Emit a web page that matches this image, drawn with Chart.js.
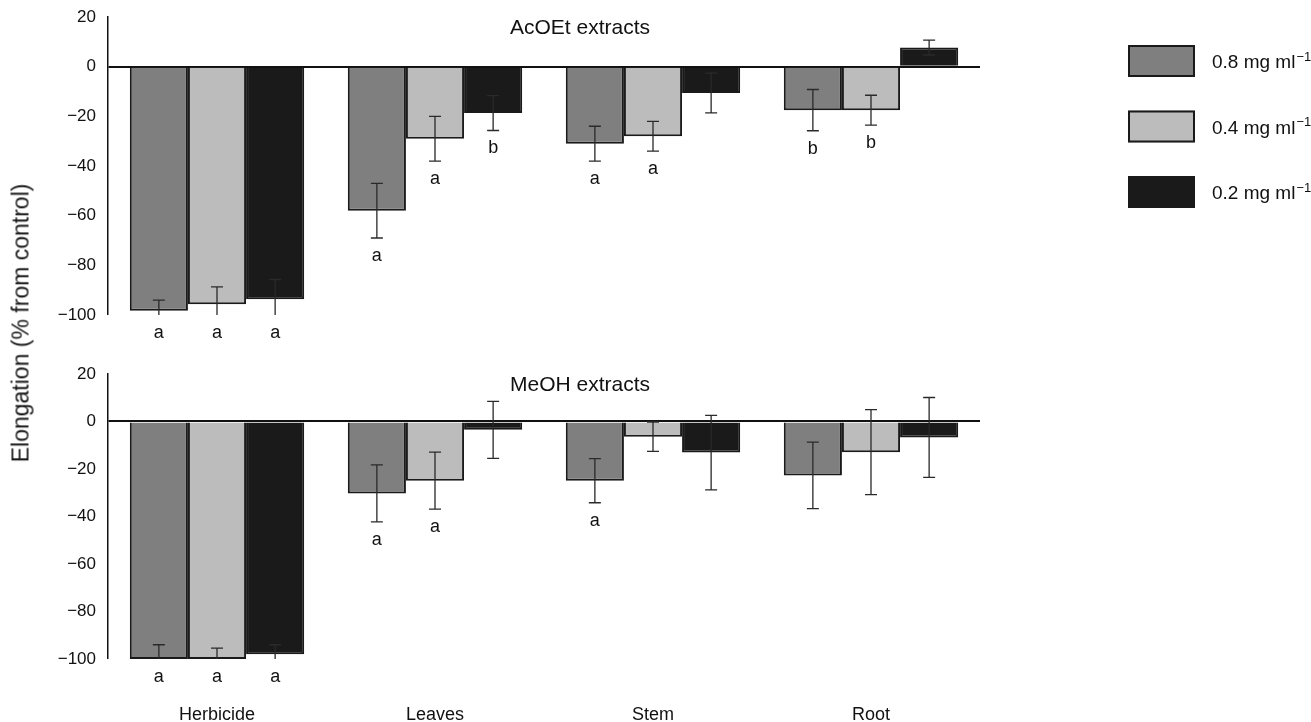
<!DOCTYPE html>
<html>
<head>
<meta charset="utf-8">
<title>Elongation</title>
<script src="https://cdn.jsdelivr.net/npm/chart.js@4.4.1/dist/chart.umd.min.js"></script>
<style>
    html, body { margin: 0; padding: 0; background: #fff; }
    #wrap { position: relative; width: 1311px; height: 722px; overflow: hidden; }
    canvas { position: absolute; left: 0; }
    #graf_acoet { top: 0; }
    #graf_meoh { top: 360px; }
    #ytitulo {
        position: absolute; left: 21px; top: 323px;
        transform: translate(-50%, -50%) rotate(-90deg);
        white-space: nowrap; color: #161616;
        font: 23px "Liberation Sans", Arial, sans-serif;
    }
</style>
</head>
<body>
<div id="wrap">
    <canvas id="graf_acoet" width="1311" height="360"></canvas>
    <canvas id="graf_meoh" width="1311" height="362"></canvas>
    <div id="ytitulo">Elongation (% from control)</div>
</div>
<script>
var categories = ['Herbicide', 'Leaves', 'Stem', 'Root'];
var doseLabels = ['0.8 mg ml', '0.4 mg ml', '0.2 mg ml'];
var doseColors = ['#7f7f7f', '#bcbcbc', '#1a1a1a'];
var yTicks = [20, 0, -20, -40, -60, -80, -100];

// AcOEt extracts
var acoet08 = [-98.3, -58, -31, -17.5];
var acoet04 = [-95.7, -29, -28, -17.5];
var acoet02 = [-93.7, -18.7, -10.6, 7.7];
var acoetErr08 = [4.3, 11, 7, 8.3];
var acoetErr04 = [7, 9, 6, 6];
var acoetErr02 = [8, 7, 8, 3];
var acoetLet08 = ['a', 'a', 'a', 'b'];
var acoetLet04 = ['a', 'a', 'a', 'b'];
var acoetLet02 = ['a', 'b', '', ''];

// MeOH extracts
var meoh08 = [-100, -30.3, -24.9, -22.7];
var meoh04 = [-100, -24.9, -6.4, -12.9];
var meoh02 = [-98, -3.5, -13.1, -6.7];
var meohErr08 = [6, 12, 9.3, 14];
var meohErr04 = [4.6, 12, 6.2, 17.9];
var meohErr02 = [4, 12, 15.7, 16.8];
var meohLet08 = ['a', 'a', 'a', ''];
var meohLet04 = ['a', 'a', '', ''];
var meohLet02 = ['a', '', '', ''];

var fuente = '"Liberation Sans", Arial, sans-serif';
Chart.defaults.font.family = fuente;
Chart.defaults.color = '#111';

// barras de error + letras
var errorBars = {
    id: 'errorBars',
    afterDatasetsDraw: function(chart) {
        var ctx = chart.ctx, area = chart.chartArea, y = chart.scales.y;
        ctx.save();
        ctx.strokeStyle = '#2a2a2a';
        ctx.lineWidth = 1.3;
        ctx.fillStyle = '#111';
        ctx.font = '18px ' + fuente;
        ctx.textAlign = 'center';
        ctx.textBaseline = 'middle';
        chart.data.datasets.forEach(function(ds, i) {
            var meta = chart.getDatasetMeta(i);
            meta.data.forEach(function(bar, j) {
                var v = ds.data[j], e = ds.errores[j];
                var yHi = y.getPixelForValue(v + e);
                var yLo = y.getPixelForValue(v - e);
                var yHiC = Math.max(yHi, area.top);
                var yLoC = Math.min(yLo, area.bottom);
                ctx.beginPath();
                ctx.moveTo(bar.x, yHiC);
                ctx.lineTo(bar.x, yLoC);
                if (yHi >= area.top) { ctx.moveTo(bar.x - 6, yHi); ctx.lineTo(bar.x + 6, yHi); }
                if (yLo <= area.bottom) { ctx.moveTo(bar.x - 6, yLo); ctx.lineTo(bar.x + 6, yLo); }
                ctx.stroke();
                if (ds.letras[j]) ctx.fillText(ds.letras[j], bar.x, yLoC + 18);
            });
        });
        ctx.restore();
    }
};

var panelTitle = {
    id: 'panelTitle',
    afterDraw: function(chart, args, opts) {
        var ctx = chart.ctx;
        ctx.save();
        ctx.font = '21px ' + fuente;
        ctx.fillStyle = '#111';
        ctx.textAlign = 'center';
        ctx.textBaseline = 'middle';
        ctx.fillText(opts.text, opts.x, opts.y);
        ctx.restore();
    }
};

var leyenda = {
    id: 'leyenda',
    afterDraw: function(chart, args, opts) {
        if (!opts.show) return;
        var ctx = chart.ctx;
        ctx.save();
        chart.data.datasets.forEach(function(ds, i) {
            var top = opts.top + i * opts.step;
            ctx.fillStyle = ds.backgroundColor;
            ctx.fillRect(opts.x, top, 67, 32);
            ctx.strokeStyle = '#1a1a1a';
            ctx.lineWidth = 2;
            ctx.strokeRect(opts.x + 1, top + 1, 65, 30);
            ctx.fillStyle = '#111';
            ctx.textAlign = 'left';
            ctx.textBaseline = 'middle';
            ctx.font = '19px ' + fuente;
            var tx = opts.x + 84, ty = top + 18;
            ctx.fillText(ds.label, tx, ty);
            var w = ctx.measureText(ds.label).width;
            ctx.font = '13px ' + fuente;
            ctx.fillText('\u22121', tx + w + 1, ty - 6);
        });
        ctx.restore();
    }
};

function crearGrafico(id, titulo, valores, errores, letras, conEjeX, conLeyenda, pad, altoX, titleY) {
    var datasets = valores.map(function(serie, i) {
        return {
            label: doseLabels[i],
            data: serie,
            errores: errores[i],
            letras: letras[i],
            backgroundColor: doseColors[i],
            borderColor: '#1a1a1a',
            borderWidth: 2,
            categoryPercentage: 0.8,
            barPercentage: 1.0
        };
    });
    var canvas = document.getElementById(id).getContext('2d');
    return new Chart(canvas, {
        type: 'bar',
        data: { labels: categories, datasets: datasets },
        options: {
            responsive: false,
            animation: false,
            layout: { padding: pad },
            plugins: {
                legend: { display: false },
                tooltip: { enabled: false },
                panelTitle: { text: titulo, x: 580, y: titleY },
                leyenda: { show: conLeyenda, x: 1128, top: 45, step: 65.5 }
            },
            scales: {
                x: {
                    grid: { display: false },
                    border: { display: false },
                    ticks: { display: conEjeX, padding: 37, font: { size: 18 }, color: '#111' },
                    afterFit: function(s) { s.height = altoX; }
                },
                y: {
                    min: -100,
                    max: 20,
                    afterBuildTicks: function(s) {
                        s.ticks = yTicks.map(function(v) { return { value: v }; });
                    },
                    afterFit: function(s) {
                        s.width = 108;
                        s.paddingTop = 0;
                        s.paddingBottom = 0;
                    },
                    border: { display: true, color: '#111', width: 1.5 },
                    grid: {
                        drawTicks: false,
                        color: function(c) { return c.tick && c.tick.value === 0 ? '#111' : 'rgba(0,0,0,0)'; },
                        lineWidth: function(c) { return c.tick && c.tick.value === 0 ? 2 : 0; }
                    },
                    ticks: {
                        padding: 12,
                        font: { size: 17 },
                        color: '#111',
                        callback: function(v) { return String(v).replace('-', '\u2212'); }
                    }
                }
            }
        },
        plugins: [errorBars, panelTitle, leyenda]
    });
}

crearGrafico('graf_acoet', 'AcOEt extracts',
    [acoet08, acoet04, acoet02],
    [acoetErr08, acoetErr04, acoetErr02],
    [acoetLet08, acoetLet04, acoetLet02],
    false, true, { left: 0, right: 331, top: 17, bottom: 0 }, 45, 28);

crearGrafico('graf_meoh', 'MeOH extracts',
    [meoh08, meoh04, meoh02],
    [meohErr08, meohErr04, meohErr02],
    [meohLet08, meohLet04, meohLet02],
    true, false, { left: 0, right: 331, top: 14, bottom: 0 }, 63, 25);
</script>
</body>
</html>
